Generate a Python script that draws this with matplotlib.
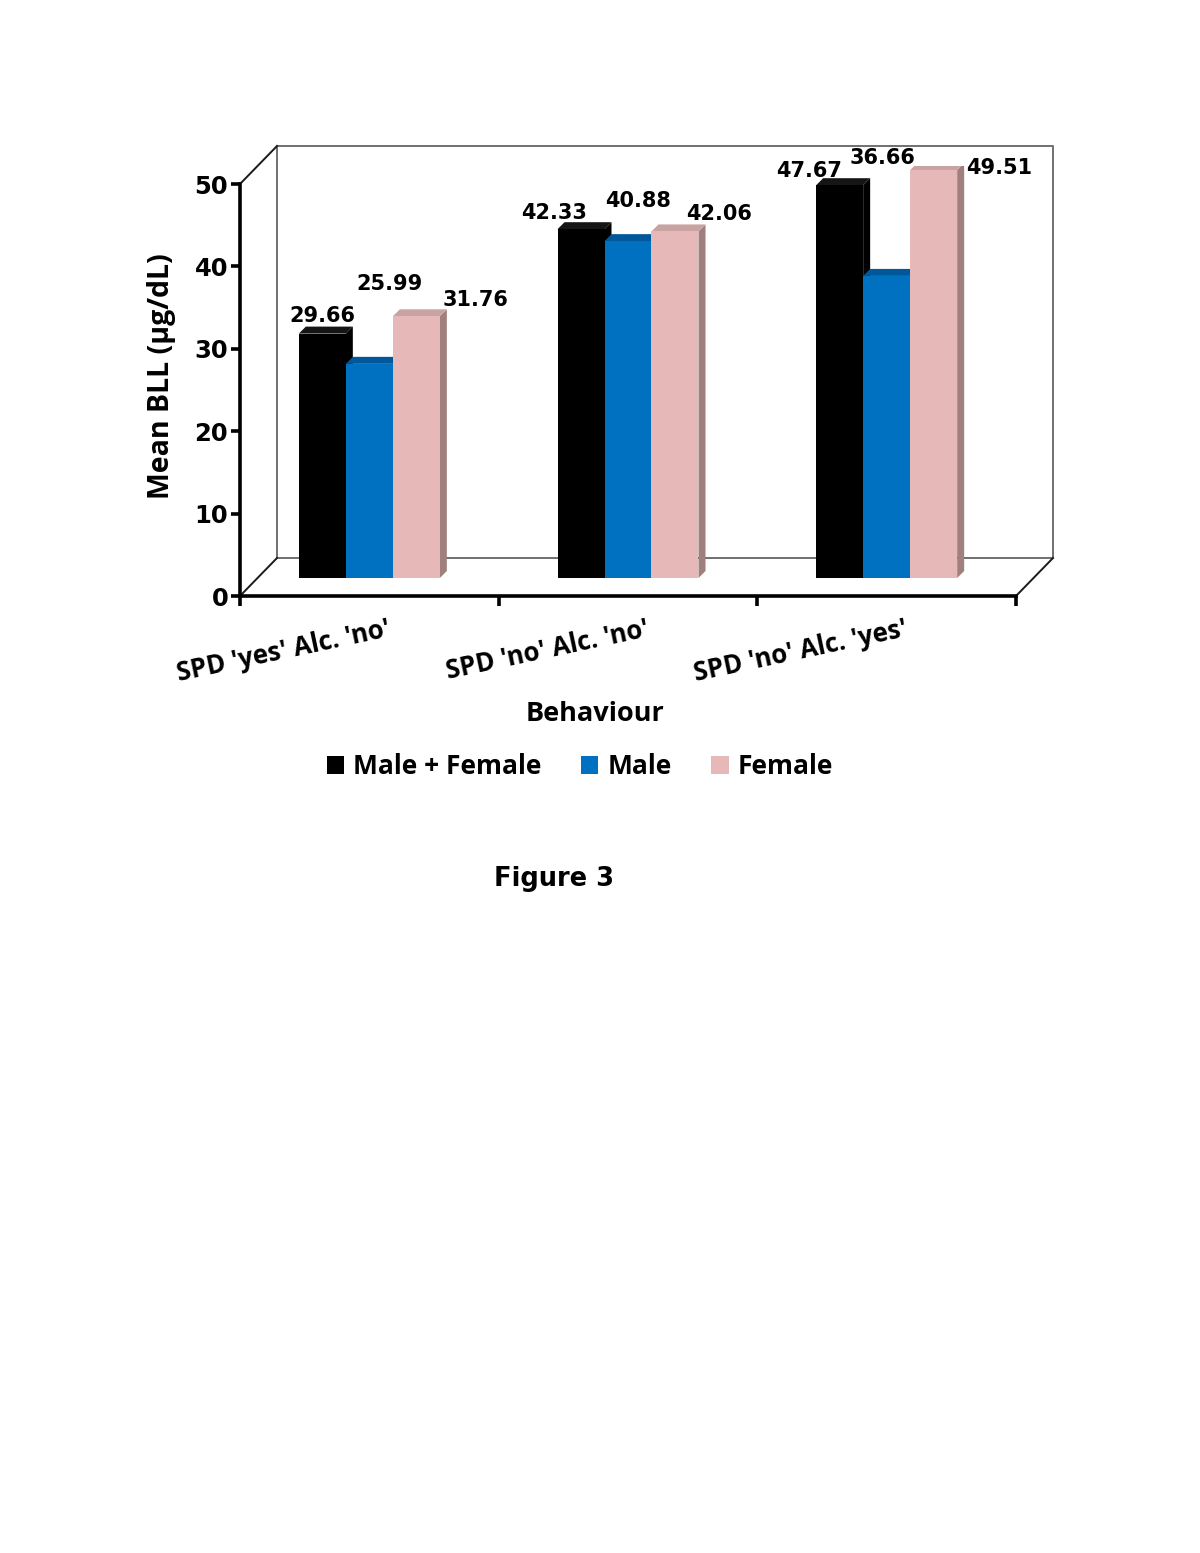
import matplotlib
matplotlib.use('Agg')
import matplotlib.pyplot as plt
from matplotlib.patches import Polygon, Patch
import numpy as np

# data
categories = ["SPD 'yes' Alc. 'no'", "SPD 'no' Alc. 'no'", "SPD 'no' Alc. 'yes'"]
series = ['Male + Female', 'Male', 'Female']
both_bll = [29.66, 42.33, 47.67]
male_bll = [25.99, 40.88, 36.66]
female_bll = [31.76, 42.06, 49.51]
y_ticks = [0, 10, 20, 30, 40, 50]

# styling / layout
front_col = ['#000000', '#0070C0', '#E6B8B7']
top_col = ['#151515', '#00589A', '#C9A3A2']
side_col = ['#000000', '#004F86', '#A07F7F']
# hand placed value labels (pixel offsets from bar top centre)
label_off = [[(0, 18), (20, 80), (59, 16)],
             [(-27, 16), (10, 40), (44, 17)],
             [(-31, 14), (-4, 118), (66, 2)]]

W, H = 1200, 1553
fig = plt.figure(figsize=(W / 100, H / 100), dpi=100)
fig.patch.set_facecolor('white')
TXT = 'Open Sans'
NUM = 'DejaVu Sans'
plt.rcParams['font.family'] = [TXT, 'DejaVu Sans']

def px_rect(x0, y_bottom_from_top, w, h):
    return [x0 / W, (H - y_bottom_from_top) / H, w / W, h / H]

# front frame (axes with spines) and bar plane (a bit deeper)
axf = fig.add_axes(px_rect(240, 596, 776, 412))
axb = fig.add_axes(px_rect(240, 578, 776, 412))
for ax in (axf, axb):
    ax.set_xlim(0, 3)
    ax.set_ylim(0, 50)
    ax.patch.set_visible(False)
axb.axis('off')

for s in ('top', 'right'):
    axf.spines[s].set_visible(False)
for s in ('left', 'bottom'):
    axf.spines[s].set_linewidth(2.6)
axf.set_yticks(y_ticks)
axf.set_yticklabels([str(t) for t in y_ticks], fontsize=17.5, fontweight='bold', family=NUM)
axf.tick_params(axis='y', direction='out', length=6.5, width=2.6, pad=2)
axf.set_xticks([0, 1, 2, 3])
axf.set_xticklabels([])
axf.tick_params(axis='x', direction='out', length=7, width=2.6)

# back wall + floor lines
dxa, dya = 37 / 776, 38 / 412
axf.plot([dxa, dxa, 1 + dxa, 1 + dxa, dxa], [dya, 1 + dya, 1 + dya, dya, dya],
         color='#707070', lw=1.4, transform=axf.transAxes, clip_on=False)
for xa, ya in [(0, 0), (1, 0), (0, 1)]:
    axf.plot([xa, xa + dxa], [ya, ya + dya], color='#1a1a1a', lw=1.4,
             transform=axf.transAxes, clip_on=False)

# bars
values = [both_bll, male_bll, female_bll]
x = np.arange(len(categories)) + 0.5
bw = 47 / (776 / 3)
ddx = 7 / (776 / 3)
ddy = 7 * 50 / 412
z = 2
for g in range(len(categories)):
    for i in range(len(series)):
        xc = x[g] + (i - 1) * bw
        h = values[i][g]
        bar = axb.bar(xc, h, width=bw, color=front_col[i], linewidth=0)[0]
        x0, x1 = bar.get_x(), bar.get_x() + bar.get_width()
        side = Polygon([(x1, 0), (x1, h), (x1 + ddx, h + ddy), (x1 + ddx, ddy)],
                       closed=True, facecolor=side_col[i], edgecolor='none', zorder=z)
        top = Polygon([(x0, h), (x1, h), (x1 + ddx, h + ddy), (x0 + ddx, h + ddy)],
                      closed=True, facecolor=top_col[i], edgecolor='none', zorder=z + 1)
        axb.add_patch(side)
        axb.add_patch(top)
        bar.set_zorder(z + 2)
        z += 3
        ox, oy = label_off[g][i]
        axb.annotate(f'{h:.2f}', xy=(xc, h), xytext=(ox, oy), textcoords='offset pixels',
                     ha='center', va='center', fontsize=15, fontweight='bold',
                     family=NUM, annotation_clip=False)

# category labels
for g, cat in enumerate(categories):
    axf.annotate(cat, xy=(x[g], 0), xycoords=('data', 'axes fraction'),
                 xytext=(22, -40), textcoords='offset pixels', ha='right', va='baseline',
                 rotation=12, rotation_mode='anchor', fontsize=18.5, fontweight='bold',
                 annotation_clip=False)

fig.text(595 / W, 1 - 714 / H, 'Behaviour', ha='center', va='center',
         fontsize=19.5, fontweight='bold')
fig.text(162 / W, 1 - 376 / H, 'Mean BLL (\u00b5g/dL)', ha='center', va='center',
         rotation=90, fontsize=20.5, fontweight='bold')

handles = [Patch(facecolor=c, edgecolor='none') for c in front_col]
fig.legend(handles, series, loc='center', bbox_to_anchor=(580 / W, 1 - 767 / H),
           ncol=3, frameon=False, handlelength=0.65, handleheight=0.65,
           handletextpad=0.35, columnspacing=1.5,
           prop={'family': TXT, 'weight': 'bold', 'size': 19})

fig.text(554 / W, 1 - 879 / H, 'Figure 3', ha='center', va='center',
         fontsize=18.5, fontweight='bold', family='DejaVu Sans')

fig.savefig('out.png', dpi=100, facecolor='white')
